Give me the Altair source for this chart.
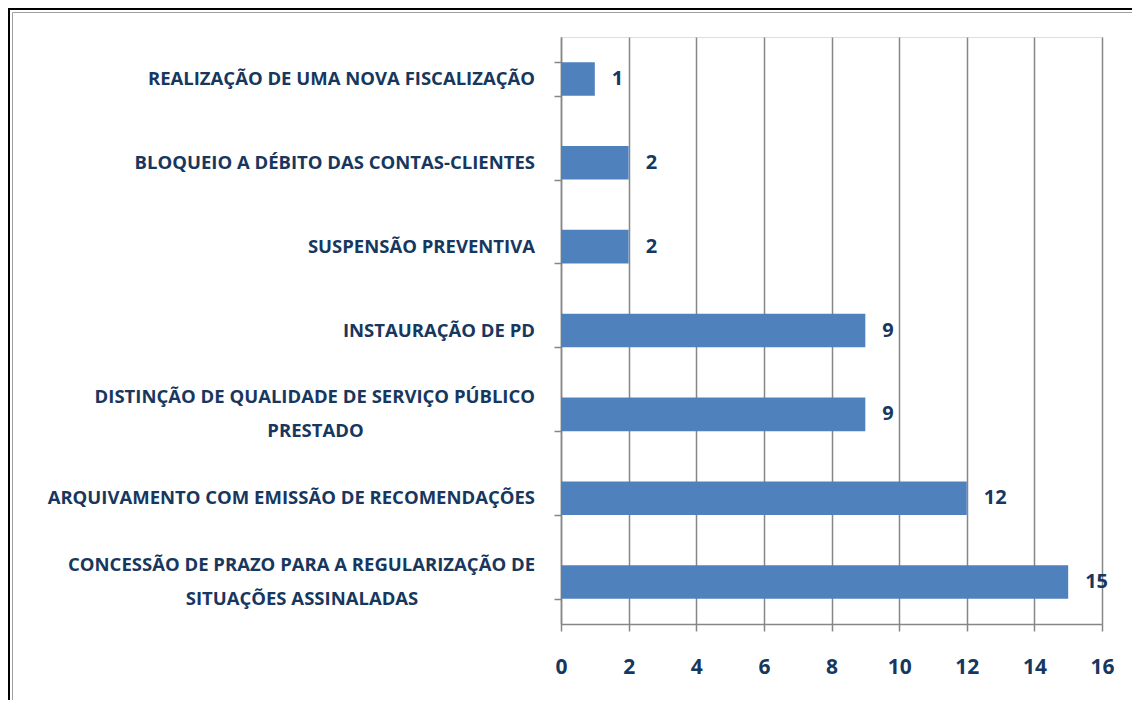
import altair as alt
import pandas as pd

categories = [
    "Realização de uma nova fiscalização",
    "Bloqueio a débito das contas-clientes",
    "Suspensão preventiva",
    "Instauração de PD",
    "Distinção de qualidade de serviço público|prestado",
    "Arquivamento com emissão de recomendações",
    "Concessão de prazo para a regularização de|situações assinaladas",
]
values = [1, 2, 2, 9, 9, 12, 15]
x_ticks = [0, 2, 4, 6, 8, 10, 12, 14, 16]

df = pd.DataFrame({"cat": categories, "val": values})

# one row per printed line of each category label
rows = []
for c in categories:
    parts = c.split("|")
    n = len(parts)
    for i, p in enumerate(parts):
        kind = "single" if n == 1 else ("first" if i == 0 else "second")
        rows.append({"cat": c, "line": p, "kind": kind})
lab_df = pd.DataFrame(rows)

W, H = 541, 587
PAD_L, PAD_T, PAD_R, PAD_B = 553, 29, 30, 76

NAVY = "#17375E"
GRID = "#868686"
BAR = "#4F81BD"
FONT = "Open Sans"
LABEL_SIZE = 18.5
HALF_LINE = 17
LABEL_GAP = 26
# approximate rendered width of the first line of each two-line label,
# used to centre the second line under it
FIRST_LINE_WIDTH = {categories[4]: 439, categories[6]: 466}

y_scale = alt.Scale(domain=categories, paddingInner=0.6, paddingOuter=0.3)

y_enc = alt.Y(
    "cat:N",
    sort=None,
    title=None,
    scale=y_scale,
    axis=alt.Axis(
        tickBand="extent",
        tickSize=7,
        tickColor=GRID,
        tickWidth=1.5,
        domainColor=GRID,
        domainWidth=1.5,
        labels=False,
        grid=False,
    ),
)

x_enc = alt.X(
    "val:Q",
    title=None,
    scale=alt.Scale(domain=[0, 16], nice=False),
    axis=alt.Axis(
        values=x_ticks,
        grid=True,
        gridColor=GRID,
        gridWidth=1.5,
        tickSize=7,
        tickColor=GRID,
        tickWidth=1.5,
        domainColor=GRID,
        domainWidth=1.5,
        labelFlush=False,
        labelPadding=25,
        labelFont=FONT,
        labelFontSize=21,
        labelFontWeight="bold",
        labelColor=NAVY,
    ),
)

bars = alt.Chart(df).mark_bar(color=BAR).encode(y=y_enc, x=x_enc)

value_labels = alt.Chart(df).mark_text(
    align="left", baseline="middle", dx=17, font=FONT, fontSize=20,
    fontWeight="bold", color=NAVY,
).encode(y=alt.Y("cat:N", sort=None), x="val:Q", text="val:Q")


def label_layer(test, dy, align="right", dx=-LABEL_GAP):
    return alt.Chart(lab_df).transform_filter(test).transform_calculate(
        shown="upper(datum.line)"
    ).mark_text(
        align=align, baseline="middle", dx=dx, dy=dy, font=FONT,
        fontSize=LABEL_SIZE, fontWeight="bold", color=NAVY,
    ).encode(
        y=alt.Y("cat:N", sort=None),
        x=alt.datum(0),
        text="shown:N",
    )


layers = [
    label_layer(alt.datum.kind == "single", 0),
    label_layer(alt.datum.kind == "first", -HALF_LINE),
]
for cat, w in FIRST_LINE_WIDTH.items():
    layers.append(
        label_layer(
            (alt.datum.kind == "second") & (alt.datum.cat == cat),
            HALF_LINE,
            align="center",
            dx=-(LABEL_GAP + w / 2),
        )
    )

one = pd.DataFrame({"a": [0]})
frame_left_black = alt.Chart(one).mark_rule(color="#000000", strokeWidth=2).encode(
    x=alt.value(-PAD_L + 1), y=alt.value(-PAD_T), y2=alt.value(H + PAD_B)
)
frame_top_black = alt.Chart(one).mark_rule(color="#000000", strokeWidth=2).encode(
    y=alt.value(-PAD_T + 1), x=alt.value(-PAD_L), x2=alt.value(W + PAD_R)
)
frame_left_gray = alt.Chart(one).mark_rule(color="#A0A0A0", strokeWidth=1).encode(
    x=alt.value(-PAD_L + 4.5), y=alt.value(-PAD_T + 4.5), y2=alt.value(H + PAD_B)
)
frame_top_gray = alt.Chart(one).mark_rule(color="#A0A0A0", strokeWidth=1).encode(
    y=alt.value(-PAD_T + 4.5), x=alt.value(-PAD_L + 4.5), x2=alt.value(W + PAD_R)
)

chart = alt.layer(
    bars, value_labels, *layers,
    frame_left_black, frame_top_black, frame_left_gray, frame_top_gray
).properties(
    width=W,
    height=H,
    autosize=alt.AutoSizeParams(type="none"),
    padding={"left": PAD_L, "top": PAD_T, "right": PAD_R, "bottom": PAD_B},
).configure_view(stroke=None).configure(background="white")

chart.save("out.html", embed_options={"renderer": "svg", "actions": False})
